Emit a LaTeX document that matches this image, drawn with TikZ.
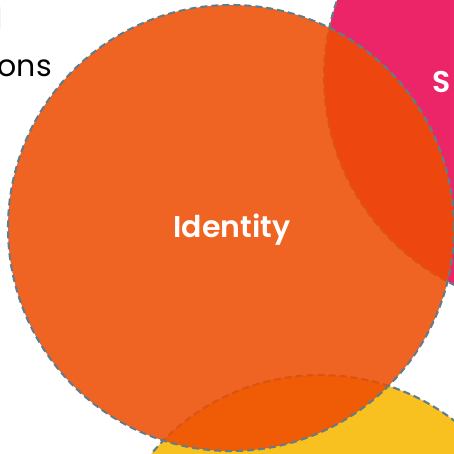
\documentclass[tikz,border=0pt]{standalone}
\usepackage{fontspec}
\setmainfont{Poppins}[BoldFont={Poppins SemiBold}]
\definecolor{edgegrey}{RGB}{96,125,139}
\definecolor{pinkc}{RGB}{236,37,104}
\definecolor{yellowc}{RGB}{248,193,32}
\definecolor{orangec}{RGB}{238,77,2}
\begin{document}
\begin{tikzpicture}[x=1pt,y=-1pt,
  ring/.style={circle, draw=edgegrey, line width=2.1pt, dash pattern=on 7pt off 4pt, inner sep=0pt},
  label/.style={font=\fontsize{30}{30}\selectfont, inner sep=0pt},
  whitetext/.style={label, font=\fontsize{30}{30}\selectfont\bfseries, text=white},
  blacktext/.style={label, text=black}]
\useasboundingbox (0,0) rectangle (454,453);
\node[ring, fill=pinkc, minimum size=462pt] (pink) at (555,77) {};
\node[ring, fill=yellowc, minimum size=440pt] (yellow) at (320,595) {};
\node[ring, fill=orangec, fill opacity=0.87, draw opacity=1, text opacity=1, minimum size=446pt] (orange) at (231,228) {};
\node[whitetext, anchor=base] (identity) at (232,237) {Identity};
\node[whitetext, anchor=base west] (s) at (432,92) {S};
\node[blacktext, anchor=base east] (l1) at (3,29) {l};
\node[blacktext, anchor=base east] (l2) at (52,76) {ons};
\end{tikzpicture}
\end{document}
